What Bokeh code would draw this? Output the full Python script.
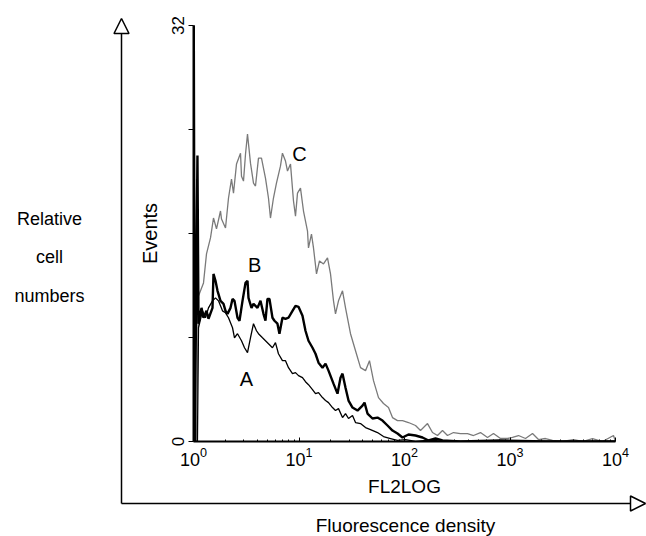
from bokeh.plotting import figure
from bokeh.layouts import column
from bokeh.models import Range1d, FixedTicker, Label
from bokeh.core.properties import value
from bokeh.embed import file_html
from bokeh.resources import INLINE

FONT = "Liberation Sans"

# ---- data ----
a_x = [1.0, 1.02, 1.09, 1.115, 1.217, 1.299, 1.387, 1.514, 1.616, 1.726, 1.883, 2.011, 2.147,
       2.343, 2.447, 2.613, 2.851, 3.044, 3.250, 3.469, 3.704, 3.954, 4.130, 4.507, 4.811, 5.136,
       5.604, 5.982, 6.386, 6.967, 7.447, 7.952, 8.677, 9.264, 9.891, 10.79, 11.52, 12.30, 13.43,
       14.34, 15.31, 16.70, 17.84, 19.04, 20.77, 22.18, 23.68, 25.85, 27.60, 29.47, 32.15, 34.33,
       38.29, 42.70, 47.61, 55.48, 63.23, 73.67, 85.83, 102.2, 127.2, 170.0, 250.0, 10000]
a_y = [40, 0, 0, 8.75, 10.05, 9.52, 10.28, 10.82, 11.05, 10.82, 10.05, 9.90, 9.52,
       8.75, 7.98, 8.29, 7.75, 7.21, 6.83, 7.98, 9.06, 8.52, 8.29, 7.98, 7.75, 7.52,
       7.21, 7.60, 6.75, 6.22, 6.22, 5.68, 5.22, 5.30, 5.07, 4.91, 4.60, 4.37, 3.99,
       3.68, 3.76, 3.38, 3.15, 2.99, 2.61, 2.38, 2.53, 1.84, 2.15, 1.77, 2.00, 1.46,
       1.38, 1.07, 0.92, 0.69, 0.38, 0.23, 0.08, 0.15, 0, 0.1, 0, 0]

b_x = [1.0, 1.03, 1.09, 1.115, 1.191, 1.244, 1.328, 1.387, 1.514, 1.547, 1.616, 1.689, 1.803,
       1.925, 2.011, 2.101, 2.243, 2.343, 2.447, 2.613, 2.729, 2.914, 3.111, 3.250, 3.321, 3.546,
       3.704, 4.041, 4.314, 4.606, 4.811, 5.025, 5.249, 5.604, 5.853, 6.249, 6.527, 6.967, 7.447,
       7.952, 8.677, 9.264, 9.891, 10.79, 11.52, 12.30, 13.43, 14.34, 15.31, 16.70, 17.84, 19.04,
       21.23, 23.17, 24.74, 25.85, 27.60, 29.47, 32.15, 35.86, 39.99, 41.78, 44.60, 49.74, 55.48,
       61.87, 69.01, 76.95, 85.83, 95.72, 109.1, 127.2, 148.1, 168.9, 196.7, 229.2, 339.4, 812.8,
       2170, 10000]
b_y = [40, 0, 22, 9.06, 10.28, 9.52, 10.05, 9.44, 10.28, 12.89, 12.36, 11.59, 10.82,
       10.59, 10.05, 9.82, 10.28, 10.97, 10.82, 9.52, 9.29, 10.82, 12.20, 12.36, 11.05, 10.28,
       10.59, 10.28, 10.82, 9.82, 9.29, 10.97, 10.97, 9.52, 9.29, 9.06, 8.29, 9.52, 9.44,
       9.52, 10.05, 10.44, 10.36, 9.67, 8.52, 7.75, 7.21, 6.75, 6.06, 5.68, 5.99, 5.45,
       4.45, 3.68, 4.91, 5.22, 4.14, 3.15, 2.61, 2.38, 2.76, 2.99, 2.15, 1.77, 1.84,
       1.61, 1.23, 0.84, 0.61, 0.31, 0.54, 0.46, 0.31, 0.08, 0.23, 0.08, 0, 0.08,
       0, 0]

c_x = [1.0, 1.04, 1.068, 1.115, 1.244, 1.328, 1.449, 1.547, 1.652, 1.803, 1.843, 2.011, 2.147,
       2.292, 2.394, 2.556, 2.790, 2.851, 2.978, 3.111, 3.250, 3.469, 3.704, 3.869, 4.130, 4.409,
       4.811, 5.136, 5.365, 5.727, 6.114, 6.670, 6.967, 7.447, 7.780, 8.307, 8.868, 9.264, 9.678,
       10.33, 11.03, 12.04, 12.30, 13.13, 13.72, 14.65, 15.64, 17.07, 18.63, 19.89, 21.23, 22.18,
       23.68, 25.85, 27.60, 30.78, 34.33, 38.29, 42.70, 46.58, 50.84, 56.70, 63.23, 70.53, 76.95,
       85.83, 95.72, 109.1, 127.2, 141.8, 165.2, 184.2, 205.5, 229.2, 255.6, 291.4, 339.4, 395.5,
       450.7, 525.3, 611.8, 697.7, 812.8, 946.9, 1056, 1204, 1403, 1634, 1862, 2170, 2528,
       3145, 3999, 4867, 6053, 7531, 9573, 10000]
c_y = [40, 0, 0, 11.20, 12.20, 14.43, 15.66, 17.19, 16.35, 17.73, 17.11, 16.42, 18.73,
       20.18, 19.11, 21.34, 22.18, 20.41, 20.03, 22.10, 23.64, 21.41, 19.88, 19.65, 21.80, 21.80,
       20.26, 18.73, 17.19, 18.73, 19.88, 21.18, 22.18, 21.57, 20.80, 21.34, 18.50, 17.34, 19.11,
       19.49, 17.73, 16.19, 14.89, 15.96, 14.89, 12.89, 13.89, 13.66, 14.12, 12.89, 10.82, 9.82,
       10.82, 11.59, 10.28, 8.29, 6.98, 5.68, 5.45, 6.22, 4.68, 3.38, 2.92, 2.61, 1.84,
       1.61, 1.61, 1.46, 1.23, 0.84, 1.38, 0.69, 0.46, 0.84, 0.46, 0.69, 0.61, 0.61,
       0.46, 0.69, 0.31, 0.61, 0.23, 0.23, 0.31, 0.46, 0.23, 0.61, 0.15, 0.23, 0.08,
       0, 0.15, 0, 0.23, 0, 0.46, 0]

x_ticks = [1, 10, 100, 1000, 10000]
y_ticks = [0, 8, 16, 24, 32]
y_tick_labels = ["0", "", "", "", "32"]
curve_names = ["A", "B", "C"]
curve_label_x = [3.18, 3.79, 10.1]
curve_label_y = [4.84, 13.6, 22.1]

x_title = "FL2LOG"
y_title = "Events"
outer_y_title = ["Relative", "cell", "numbers"]
outer_x_title = "Fluorescence density"

W, H = 646, 536

# ---- back layer: the schematic outer axes (pixel coordinates of the page) ----
bg = figure(width=W, height=H, x_range=Range1d(0, W), y_range=Range1d(H, 0),
            x_axis_location=None, y_axis_location=None,
            output_backend="svg", toolbar_location=None,
            min_border=0, outline_line_color=None)
bg.grid.visible = False
bg.frame_align = False
ox, oy = 121, 503          # corner of the outer axes
top_tip, right_tip = 18, 645
hs = 15                    # arrow head size
bg.segment(x0=[ox, ox], y0=[oy, oy], x1=[ox, right_tip - hs], y1=[top_tip + hs, oy],
           line_color="black", line_width=1.5)
bg.patches(xs=[[ox, ox - hs / 2, ox + hs / 2], [right_tip, right_tip - hs, right_tip - hs]],
           ys=[[top_tip, top_tip + hs, top_tip + hs], [oy, oy - hs / 2, oy + hs / 2]],
           fill_color="white", line_color="black", line_width=1.5)
bg.text(x=[49, 49, 49], y=[218, 256, 295], text=outer_y_title,
        text_align="center", text_baseline="middle",
        text_font=value(FONT), text_font_size="18px", text_color="black")
bg.text(x=[405], y=[525], text=[outer_x_title],
        text_align="center", text_baseline="middle",
        text_font=value(FONT), text_font_size="19px", text_color="black")

# ---- front layer: the histogram ----
p = figure(width=W, height=H, x_axis_type="log",
           x_range=Range1d(1, 10000), y_range=Range1d(0, 32),
           output_backend="svg", toolbar_location=None,
           min_border_left=193, min_border_right=31,
           min_border_top=25, min_border_bottom=95)
p.grid.visible = False
p.outline_line_color = None
p.background_fill_color = None
p.border_fill_color = None
p.frame_align = False
p.margin = (-H, 0, 0, 0)

p.line(c_x, c_y, line_color="#7a7a7a", line_width=1.3)
p.line(a_x, a_y, line_color="black", line_width=1.3)
p.line(b_x, b_y, line_color="black", line_width=2.4)

for name, lx, ly in zip(curve_names, curve_label_x, curve_label_y):
    p.add_layout(Label(x=lx, y=ly, text=name, text_align="center", text_baseline="middle",
                       text_font=FONT, text_font_size="20px", text_color="black"))

# x axis
xa = p.xaxis[0]
minor = [m * d for d in x_ticks[:-1] for m in range(2, 10)]
xa.ticker = FixedTicker(ticks=x_ticks, minor_ticks=minor)
xa.axis_line_width = 2
xa.axis_line_color = "black"
xa.major_tick_in = 4
xa.major_tick_out = 0
xa.minor_tick_in = 2
xa.minor_tick_out = 0
xa.major_label_text_font = FONT
xa.major_label_text_font_size = "18px"
xa.major_label_text_color = "black"
xa.major_label_standoff = 5
xa.axis_label = x_title
xa.axis_label_text_font = FONT
xa.axis_label_text_font_size = "19px"
xa.axis_label_text_font_style = "normal"
xa.axis_label_text_color = "black"
xa.axis_label_standoff = 7

# y axis
ya = p.yaxis[0]
ya.ticker = FixedTicker(ticks=y_ticks)
ya.major_label_overrides = {t: s for t, s in zip(y_ticks, y_tick_labels)}
ya.minor_tick_line_color = None
ya.axis_line_width = 2
ya.axis_line_color = "black"
ya.major_tick_in = 0
ya.major_tick_out = 5
ya.major_label_orientation = "vertical"
ya.major_label_text_font = FONT
ya.major_label_text_font_size = "17px"
ya.major_label_text_color = "black"
ya.major_label_standoff = 5
ya.axis_label = y_title
ya.axis_label_text_font = FONT
ya.axis_label_text_font_size = "20px"
ya.axis_label_text_font_style = "normal"
ya.axis_label_text_color = "black"
ya.axis_label_standoff = 8

layout = column(bg, p, spacing=0)

open("out.html", "w").write(file_html(layout, INLINE))
